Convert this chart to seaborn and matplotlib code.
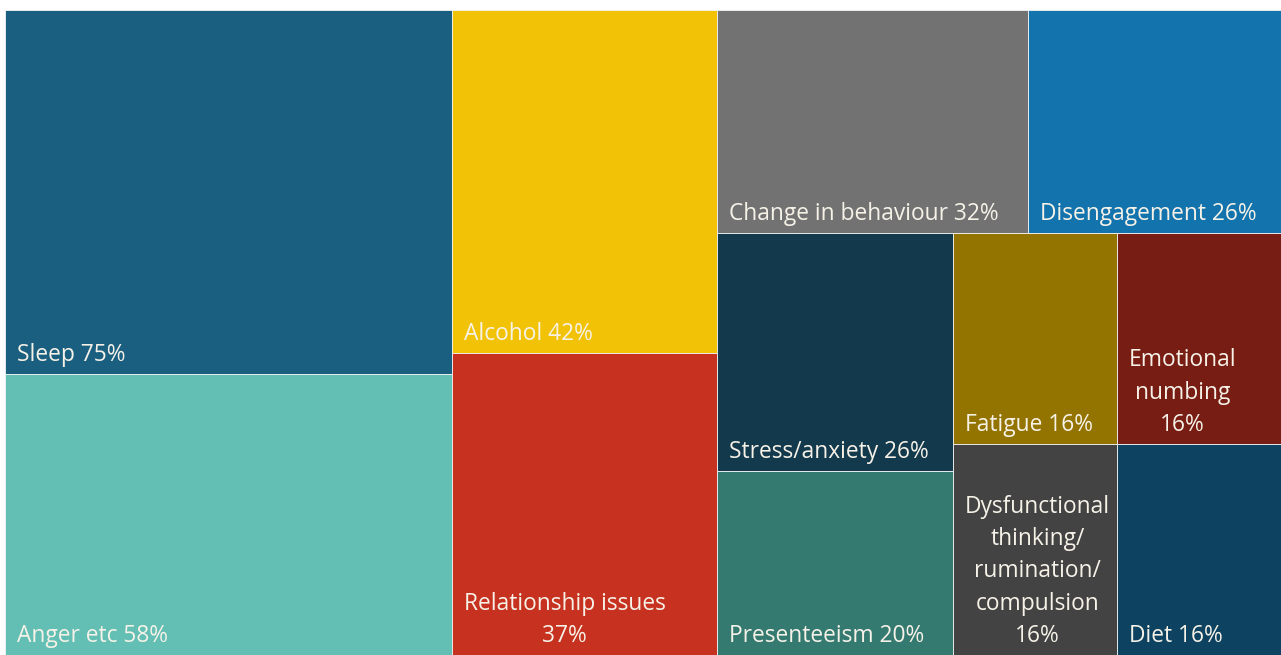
import matplotlib
matplotlib.use("Agg")
import matplotlib.pyplot as plt
import seaborn as sns
from matplotlib.patches import Rectangle

# data
labels = ["Sleep 75%", "Anger etc 58%", "Alcohol 42%", "Relationship issues\n37%",
          "Change in behaviour 32%", "Disengagement 26%", "Stress/anxiety 26%",
          "Presenteeism 20%", "Fatigue 16%", "Emotional\nnumbing\n16%",
          "Dysfunctional\nthinking/\nrumination/\ncompulsion\n16%", "Diet 16%"]
values = [75, 58, 42, 37, 32, 26, 26, 20, 16, 16, 16, 16]
colors = ["#1B5F80", "#63BFB4", "#F2C207", "#C7311F", "#727272", "#1373AD",
          "#13394D", "#357A71", "#947400", "#771D14", "#434343", "#0D4361"]

W, H = 1276, 645


def worst(row, side):
    s = sum(row)
    return max(max(side * side * r / (s * s), s * s / (side * side * r)) for r in row)


def squarify(sizes, x, y, dx, dy):
    # squarified treemap layout (Bruls et al.)
    total = sum(sizes)
    sizes = [v * dx * dy / total for v in sizes]
    rects = []
    while sizes:
        side = min(dx, dy)
        row = [sizes[0]]
        i = 1
        while i < len(sizes) and worst(row + [sizes[i]], side) <= worst(row, side):
            row.append(sizes[i])
            i += 1
        s = sum(row)
        if dx >= dy:
            w = s / dy
            yy = y
            for r in row:
                h = r / w
                rects.append((x, yy, w, h))
                yy += h
            x += w
            dx -= w
        else:
            h = s / dx
            xx = x
            for r in row:
                w = r / h
                rects.append((xx, y, w, h))
                xx += w
            y += h
            dy -= h
        sizes = sizes[i:]
    return rects


sns.set_theme(style="white")
plt.rcParams["font.family"] = ["Open Sans", "DejaVu Sans"]

fig = plt.figure(figsize=(12.81, 6.55), dpi=100)
ax = fig.add_axes([5 / 1281, 0, W / 1281, H / 655])

rects = squarify(values, 0, 0, W, H)
for (x, y, w, h), lab, c in zip(rects, labels, colors):
    ax.add_patch(Rectangle((x, y), w, h, facecolor=c, edgecolor="#f4f4f4", lw=0.6))
    ax.text(x + 12, y + h - 7, lab, ha="left", va="bottom", multialignment="center",
            color="#F6F2E8", fontsize=16.4, linespacing=1.46)

ax.set_xlim(0, W)
ax.set_ylim(H, 0)
ax.axis("off")

fig.savefig("out.png", dpi=100)
